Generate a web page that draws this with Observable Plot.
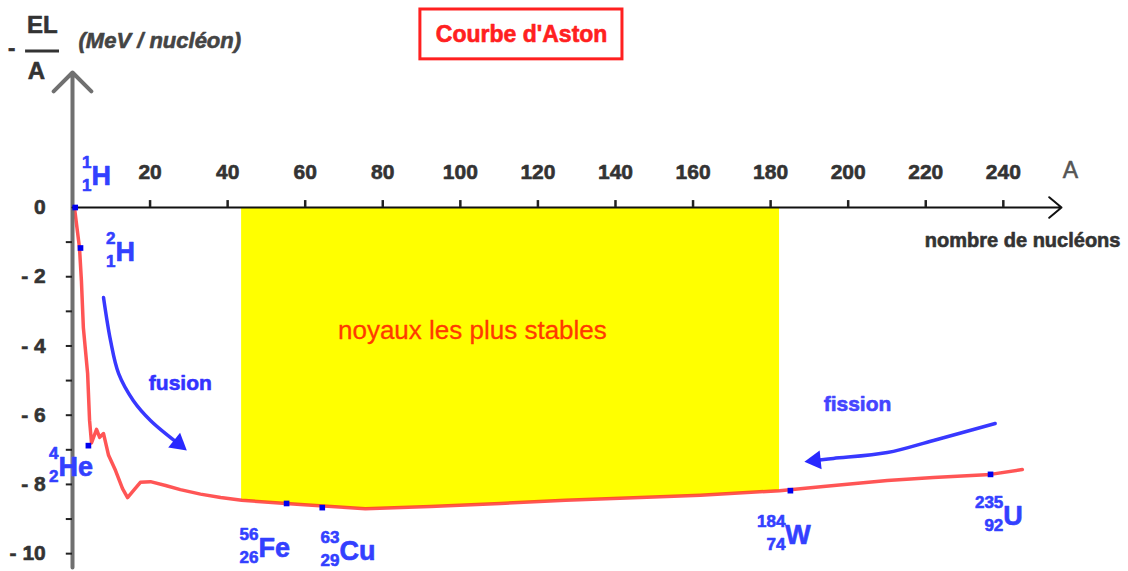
<!DOCTYPE html>
<html><head><meta charset="utf-8">
<script src="https://cdn.jsdelivr.net/npm/d3@7"></script>
<script src="https://cdn.jsdelivr.net/npm/@observablehq/plot@0.6"></script>
<style>html,body{margin:0;padding:0;background:#fff;} svg{display:block}</style>
</head><body><div id="chart"></div>
<script>
// Aston curve: -E_L/A (MeV/nucleon) vs A
const curveA = [0.5, 1.8, 2.3, 2.8, 3.9, 4.4, 4.9, 6.2, 7.0, 8.0, 9.3, 11.1, 12.9, 14.2, 15.7, 17.5, 20.1, 24.0, 27.8, 33.0, 38.2, 43.6, 58.8, 75.5, 92.3, 110.3, 127.1, 146.4, 161.9, 182.3, 193.6, 210.1, 222.0, 236.7, 244.9];
const curveE = [0, -1.16, -2.12, -3.47, -4.8, -6.15, -6.8, -6.41, -6.64, -6.53, -7.16, -7.6, -8.12, -8.38, -8.18, -7.94, -7.92, -8.03, -8.15, -8.28, -8.38, -8.46, -8.58, -8.70, -8.64, -8.55, -8.46, -8.38, -8.31, -8.18, -8.06, -7.89, -7.80, -7.71, -7.57];

// Highlighted nuclides
const nucSymbol = ["H", "H", "He", "Fe", "Cu", "W", "U"];
const nucMass = ["1", "2", "4", "56", "63", "184", "235"];
const nucZ = ["1", "1", "2", "26", "29", "74", "92"];
const nucA = [0.7, 2.06, 4.1, 55.2, 64.4, 185.1, 236.7];
const nucE = [0, -1.17, -6.88, -8.55, -8.67, -8.18, -7.71];
const labelA = [4.9, 11.09, -3.61, 47.95, 68.83, 183.8, 240.0];
const labelE = [0.9, -1.3, -7.51, -9.85, -9.94, -9.48, -8.93];

// Stability band
const stableA = [43.6, 182.3];

// Fusion / fission arrows
const fusionA = [8.0, 9.8, 11.9, 15.7, 20.1, 27.3];
const fusionE = [-2.6, -3.84, -4.8, -5.58, -6.15, -6.82];
const fissionA = [237.9, 222.0, 210.1, 196.2, 191.5];
const fissionE = [-6.24, -6.73, -7.08, -7.25, -7.31];

// Axes
const xTicks = [20, 40, 60, 80, 100, 120, 140, 160, 180, 200, 220, 240];
const yTicks = [-10, -9, -8, -7, -6, -5, -4, -3, -2, -1];
const yLabelValues = [0, -2, -4, -6, -8, -10];
const yLabelTexts = ["0", "- 2", "- 4", "- 6", "- 8", "- 10"];
const xMax = 255, yMin = -10.4, yMax = 3.9;

const curve = curveA.map((A, i) => ({A, E: curveE[i]}));
const band = curve.filter(d => d.A >= stableA[0] && d.A <= stableA[1]);
const nuc = nucA.map((A, i) => ({A, E: nucE[i], s: nucSymbol[i], m: nucMass[i], z: nucZ[i], lx: labelA[i], ly: labelE[i]}));
const fusion = fusionA.map((A, i) => ({A, E: fusionE[i]}));
const fission = fissionA.map((A, i) => ({A, E: fissionE[i]}));
const heads = [
  {A: fusionA[fusionA.length - 1], E: fusionE[fusionE.length - 1], rot: 129},
  {A: fissionA[fissionA.length - 1], E: fissionE[fissionE.length - 1], rot: 264}
];
const yLab = yLabelValues.map((v, i) => ({v, t: yLabelTexts[i]}));

const blue = "#3340ff";
const grey = "#333";
const font = "'Liberation Sans', Arial, sans-serif";
const heavy = (c) => ({fill: c, stroke: c, strokeWidth: 0.6});

const chart = Plot.plot({
  width: 1128, height: 571,
  marginLeft: 72, marginRight: 67, marginTop: 72, marginBottom: 4,
  x: {domain: [0, xMax], axis: null},
  y: {domain: [yMin, yMax], axis: null},
  style: {fontFamily: font, background: "#fff", overflow: "visible"},
  marks: [
    Plot.areaY(band, {x: "A", y1: 0, y2: "E", fill: "#ffff00"}),
    Plot.line(curve, {x: "A", y: "E", stroke: "#ff2a2a", strokeOpacity: 0.8, strokeWidth: 3.5}),
    // y axis
    Plot.arrow([{x1: 0, y1: yMin, x2: 0, y2: yMax}], {x1: "x1", y1: "y1", x2: "x2", y2: "y2", stroke: "#707070", strokeWidth: 4, headLength: 10, headAngle: 90}),
    Plot.ruleY(yTicks, {y: d => d, x1: -1.6, x2: 0, stroke: "#222", strokeWidth: 2}),
    Plot.text(yLab, {x: -6.9, y: "v", text: "t", textAnchor: "end", fontSize: 21, fontWeight: "bold", ...heavy(grey)}),
    // x axis
    Plot.arrow([{x1: 0, y1: 0, x2: xMax, y2: 0}], {x1: "x1", y1: "y1", x2: "x2", y2: "y2", stroke: "#111", strokeWidth: 2, headLength: 12, headAngle: 80}),
    Plot.ruleX(xTicks, {x: d => d, y1: 0, y2: 0.2, stroke: "#222", strokeWidth: 2.5}),
    Plot.text(xTicks, {x: d => d, y: 1.01, text: d => String(d), fontSize: 21, fontWeight: "bold", ...heavy(grey)}),
    Plot.text(["A"], {x: 257.3, y: 1.07, text: d => d, fontSize: 23, ...heavy("#555")}),
    Plot.text(["nombre de nucléons"], {x: 270.2, y: -0.95, text: d => d, textAnchor: "end", fontSize: 20, fontWeight: "bold", ...heavy(grey)}),
    // y label: - E_L / A (MeV / nucléon)
    Plot.text(["-"], {x: -15.7, y: 4.6, text: d => d, fontSize: 22, fontWeight: "bold", ...heavy(grey)}),
    Plot.text(["EL"], {x: -7.8, y: 5.26, text: d => d, fontSize: 24, fontWeight: "bold", ...heavy(grey)}),
    Plot.ruleY([4.52], {y: d => d, x1: -12.1, x2: -3.35, stroke: grey, strokeWidth: 3}),
    Plot.text(["A"], {x: -9.28, y: 3.93, text: d => d, fontSize: 24, fontWeight: "bold", ...heavy(grey)}),
    Plot.text(["(MeV / nucléon)"], {x: 1.55, y: 4.8, text: d => d, textAnchor: "start", fontSize: 22, fontWeight: "bold", fontStyle: "italic", ...heavy("#444")}),
    // title
    Plot.rect([{x1: 89.7, x2: 141.8, y1: 4.28, y2: 5.72}], {x1: "x1", x2: "x2", y1: "y1", y2: "y2", fill: "none", stroke: "#ff2020", strokeWidth: 3}),
    Plot.text(["Courbe d'Aston"], {x: 115.8, y: 5.0, text: d => d, fontSize: 23, fontWeight: "bold", ...heavy("#ff2020")}),
    // band label
    Plot.text(["noyaux les plus stables"], {x: 103.1, y: -3.55, text: d => d, fontSize: 26, ...heavy("#ff3a00"), strokeWidth: 0.3}),
    // fusion / fission
    Plot.line(fusion, {x: "A", y: "E", curve: "catmull-rom", stroke: "#3838ff", strokeWidth: 3.5}),
    Plot.text(["fusion"], {x: 27.8, y: -5.08, text: d => d, fontSize: 21, fontWeight: "bold", ...heavy("#3333ff")}),
    Plot.line(fission, {x: "A", y: "E", curve: "catmull-rom", stroke: "#3838ff", strokeWidth: 3.5}),
    Plot.text(["fission"], {x: 202.4, y: -5.69, text: d => d, fontSize: 21, fontWeight: "bold", ...heavy("#4444ff")}),
    Plot.dot(heads, {x: "A", y: "E", symbol: "triangle", r: 7, rotate: "rot", fill: "#2828ff"}),
    // nuclides
    Plot.dot(nuc, {x: "A", y: "E", symbol: "square", r: 3.2, fill: "#0000ee"}),
    Plot.text(nuc, {x: "lx", y: "ly", text: "s", textAnchor: "start", fontSize: 27, fontWeight: "bold", ...heavy(blue)}),
    Plot.text(nuc, {x: "lx", y: "ly", text: "m", textAnchor: "end", dy: -14, fontSize: 17, fontWeight: "bold", ...heavy(blue)}),
    Plot.text(nuc, {x: "lx", y: "ly", text: "z", textAnchor: "end", dy: 9, fontSize: 17, fontWeight: "bold", ...heavy(blue)})
  ]
});
document.getElementById("chart").appendChild(chart);
</script>
</body></html>
